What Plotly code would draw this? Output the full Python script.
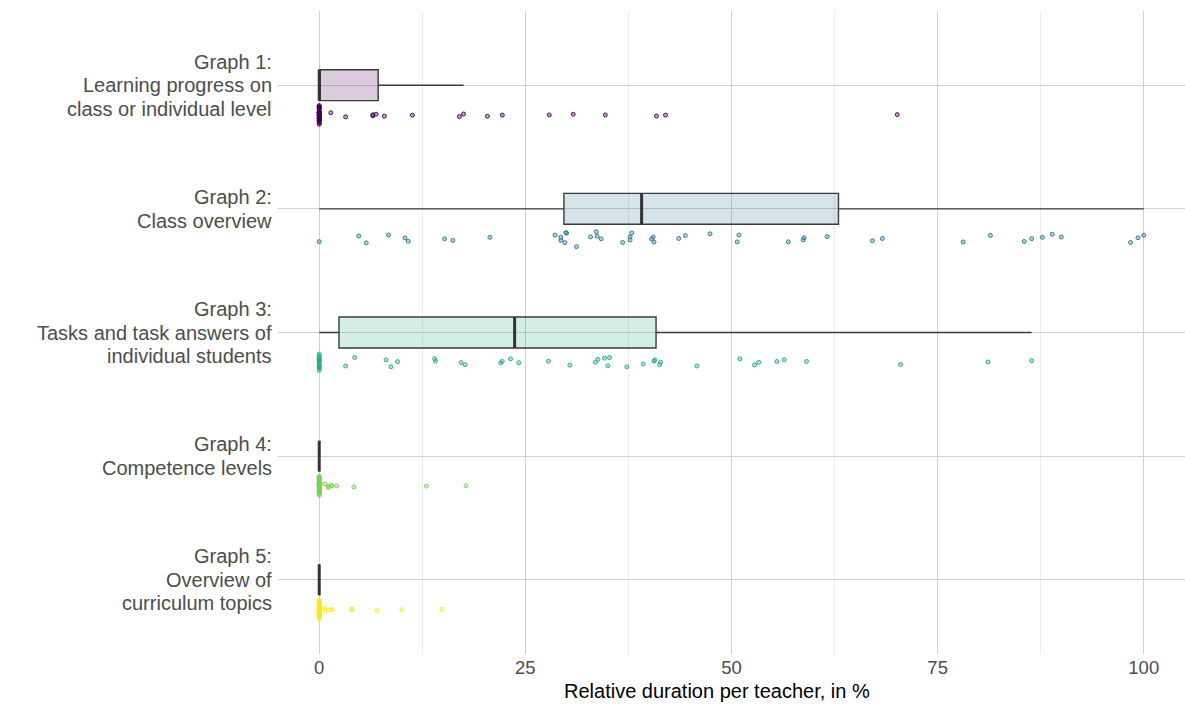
import numpy as np
import plotly.graph_objects as go

# Category labels (top to bottom); <br> marks a line break
graphs = [
    "Graph 1:<br>Learning progress on<br>class or individual level",
    "Graph 2:<br>Class overview",
    "Graph 3:<br>Tasks and task answers of<br>individual students",
    "Graph 4:<br>Competence levels",
    "Graph 5:<br>Overview of<br>curriculum topics",
]

# Relative duration per teacher (%), one value per teacher
graph1 = [0.0] * 31 + [1.4, 3.2, 6.5, 6.5, 6.9, 7.9, 11.3, 17.0, 17.5, 20.4,
                       22.2, 27.9, 30.8, 34.7, 40.9, 42.0, 70.1]
graph2 = [0.0, 4.8, 5.7, 8.4, 10.4, 10.8, 15.2, 16.2, 20.7, 28.6, 29.3, 29.3,
          29.8, 29.9, 30.0, 31.2, 32.9, 33.6, 33.7, 34.2, 36.8, 37.7, 37.7, 37.9,
          40.3, 40.5, 40.6, 43.6, 44.4, 47.4, 50.7, 50.9, 56.9, 58.7, 58.8, 61.6,
          67.1, 68.3, 78.1, 81.4, 85.5, 86.4, 87.7, 88.9, 90.0, 98.4, 99.3, 100.0]
graph3 = [0.0] * 12 + [3.2, 4.3, 8.1, 8.7, 9.5, 14.0, 14.1, 17.2, 17.7, 22.0,
                       22.2, 23.2, 24.2, 27.8, 30.4, 33.5, 33.8, 34.6, 35.0, 35.2,
                       37.3, 39.3, 40.6, 40.7, 41.3, 41.4, 45.8, 51.0, 52.8, 53.3,
                       55.5, 56.4, 59.1, 70.5, 81.1, 86.4]
graph4 = [0.0] * 39 + [0.65, 1.1, 1.1, 1.5, 1.5, 2.1, 4.2, 13.0, 17.8]
graph5 = [0.0] * 39 + [0.65, 0.7, 1.25, 1.6, 3.95, 3.95, 7.0, 10.0, 14.9]

series = [graph1, graph2, graph3, graph4, graph5]
colors = ["#440154", "#2A788E", "#22A884", "#7AD151", "#FDE725"]

x_ticks = [0, 25, 50, 75, 100]
x_title = "Relative duration per teacher, in %"

LABEL_SIZE = 20
LINE_GAP = 23.5   # px between label lines
BOX_WIDTH = 0.25  # in category units


def rgba(hex_color, alpha):
    h = hex_color.lstrip("#")
    r, g, b = int(h[0:2], 16), int(h[2:4], 16), int(h[4:6], 16)
    return f"rgba({r},{g},{b},{alpha})"


def tukey_stats(values):
    v = np.asarray(values, dtype=float)
    q1, med, q3 = np.percentile(v, [25, 50, 75])
    iqr = q3 - q1
    lo = v[v >= q1 - 1.5 * iqr].min()
    hi = v[v <= q3 + 1.5 * iqr].max()
    return q1, med, q3, lo, hi


fig = go.Figure()
shapes = []
for idx, (label, vals, col) in enumerate(zip(graphs, series, colors)):
    q1, med, q3, lo, hi = tukey_stats(vals)
    fig.add_trace(go.Box(
        x=[vals], y=[label],
        q1=[q1], median=[med], q3=[q3], lowerfence=[lo], upperfence=[hi],
        orientation="h",
        boxpoints="all", jitter=0.65, pointpos=1.95,
        width=BOX_WIDTH, whiskerwidth=0,
        fillcolor=rgba(col, 0.2),
        line=dict(color="#3a3a3a", width=1.4),
        marker=dict(size=4, color=rgba(col, 0.35),
                    line=dict(color=rgba(col, 0.9), width=1)),
        hoverinfo="x",
        showlegend=False,
    ))
    # heavier median stroke
    shapes.append(dict(
        type="line", xref="x", yref="y",
        x0=med, x1=med, y0=idx - BOX_WIDTH / 2, y1=idx + BOX_WIDTH / 2,
        line=dict(color="#333333", width=3),
    ))

# Category labels drawn line by line, right-aligned against the plot area
annotations = []
for label in graphs:
    lines = label.split("<br>")
    n = len(lines)
    for i, line in enumerate(lines):
        annotations.append(dict(
            text=line, xref="paper", x=0, yref="y", y=label,
            xanchor="right", yanchor="middle", xshift=-5,
            yshift=((n - 1) / 2 - i) * LINE_GAP,
            showarrow=False, borderpad=0,
            font=dict(size=LABEL_SIZE, color="#4d4d4d"),
        ))

# x-axis title
annotations.append(dict(
    text=x_title, xref="paper", x=0.484, yref="paper", y=0,
    xanchor="center", yanchor="middle", yshift=-37,
    showarrow=False, font=dict(size=20, color="#000000"),
))

fig.update_layout(
    width=1185, height=707,
    margin=dict(l=278, r=0, t=11, b=53),
    plot_bgcolor="white", paper_bgcolor="white",
    font=dict(family="Liberation Sans, Arial, sans-serif", color="#4d4d4d"),
    annotations=annotations,
    shapes=shapes,
)
fig.update_xaxes(
    range=[-5, 105], tickvals=x_ticks, ticktext=[str(t) for t in x_ticks],
    showgrid=True, gridcolor="#d0d0d0", gridwidth=1,
    minor=dict(dtick=12.5, tick0=0, showgrid=True, gridcolor="#ebebeb", gridwidth=1),
    zeroline=False, showline=False, ticks="",
    tickfont=dict(size=18.5, color="#4d4d4d"),
)
fig.update_yaxes(
    type="category", categoryorder="array", categoryarray=graphs,
    range=[4.6, -0.6],
    showgrid=True, gridcolor="#d0d0d0", gridwidth=1,
    zeroline=False, showline=False, ticks="", showticklabels=False,
)

fig.write_html("out.html")
